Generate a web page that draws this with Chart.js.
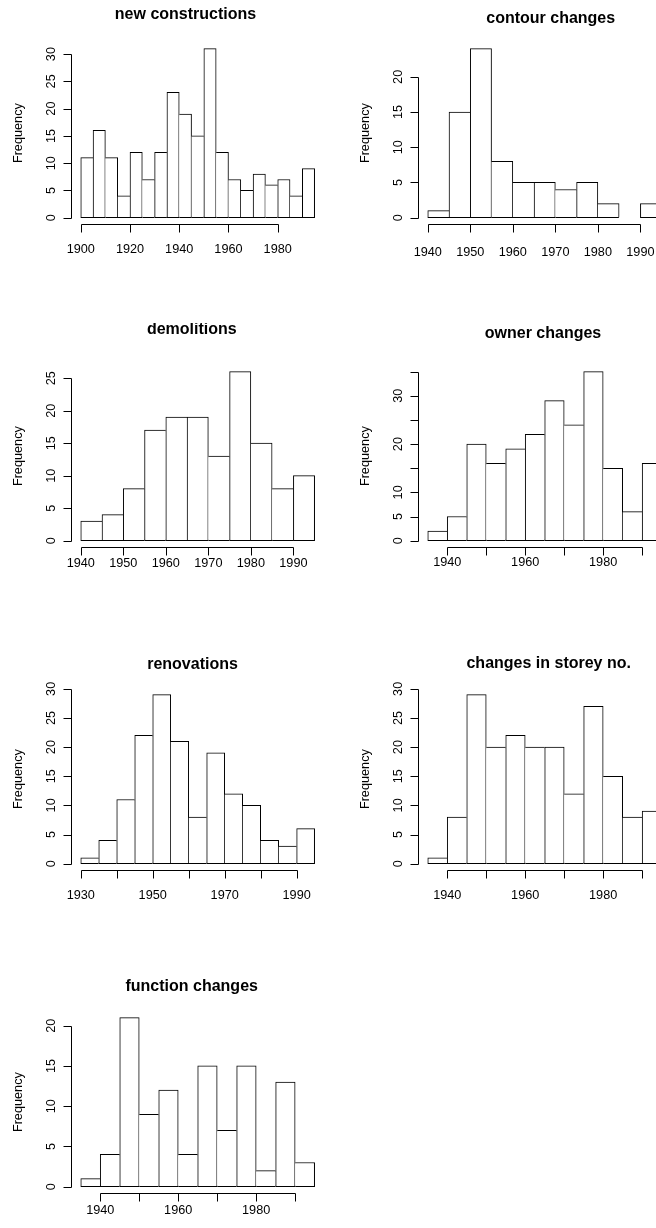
<!DOCTYPE html>
<html>
<head>
<meta charset="utf-8">
<script src="https://cdn.jsdelivr.net/npm/chart.js@4/dist/chart.umd.min.js"></script>
<style>
  html, body { margin: 0; padding: 0; background: #fff; }
  body { width: 656px; height: 1228px; overflow: hidden; position: relative; }
  .panel { position: absolute; width: 347px; height: 323px; }
</style>
</head>
<body>
<script>
// histogram counts, 5-year bins
const binWidth = 5
const titles = ["new constructions", "contour changes", "demolitions", "owner changes",
  "renovations", "changes in storey no.", "function changes"]
const binStarts = [1900, 1940, 1940, 1935, 1930, 1935, 1935]

const newConstructions = [11, 16, 11, 4, 12, 7, 12, 23, 19, 15, 31, 12, 7, 5, 8, 6, 7, 4, 9]
const contourChanges = [1, 15, 24, 8, 5, 5, 4, 5, 2, 0, 2]
const demolitions = [3, 4, 8, 17, 19, 19, 13, 26, 15, 8, 10]
const ownerChanges = [2, 5, 20, 16, 19, 22, 29, 24, 35, 15, 6, 16]
const renovations = [1, 4, 11, 22, 29, 21, 8, 19, 12, 10, 4, 3, 6]
const storeyChanges = [1, 8, 29, 20, 22, 20, 20, 12, 27, 15, 8, 9]
const functionChanges = [1, 4, 21, 9, 12, 4, 15, 7, 15, 2, 13, 3]
const counts = [newConstructions, contourChanges, demolitions, ownerChanges,
  renovations, storeyChanges, functionChanges]

// axis ticks and the labels R kept
const xTicks = [
  [1900, 1920, 1940, 1960, 1980],
  [1940, 1950, 1960, 1970, 1980, 1990],
  [1940, 1950, 1960, 1970, 1980, 1990],
  [1940, 1950, 1960, 1970, 1980, 1990],
  [1930, 1940, 1950, 1960, 1970, 1980, 1990],
  [1940, 1950, 1960, 1970, 1980, 1990],
  [1940, 1950, 1960, 1970, 1980, 1990],
]
const xTickLabels = [
  [1900, 1920, 1940, 1960, 1980],
  [1940, 1950, 1960, 1970, 1980, 1990],
  [1940, 1950, 1960, 1970, 1980, 1990],
  [1940, 1960, 1980],
  [1930, 1950, 1970, 1990],
  [1940, 1960, 1980],
  [1940, 1960, 1980],
]
const yTicks = [
  [0, 5, 10, 15, 20, 25, 30],
  [0, 5, 10, 15, 20],
  [0, 5, 10, 15, 20, 25],
  [0, 5, 10, 15, 20, 25, 30, 35],
  [0, 5, 10, 15, 20, 25, 30],
  [0, 5, 10, 15, 20, 25, 30],
  [0, 5, 10, 15, 20],
]
const yTickLabels = [
  [0, 5, 10, 15, 20, 25, 30],
  [0, 5, 10, 15, 20],
  [0, 5, 10, 15, 20, 25],
  [0, 5, 10, 20, 30],
  [0, 5, 10, 15, 20, 25, 30],
  [0, 5, 10, 15, 20, 25, 30],
  [0, 5, 10, 15, 20],
]

// where each panel sits (col, row) and small per-panel text offsets
const panelLayout = [
  { col: 0, row: 0, titleX: 185.5, titleY: 19.3, xLabOff: 23.5 },
  { col: 1, row: 0, titleX: 203.7, titleY: 22.7, xLabOff: 27 },
  { col: 0, row: 1, titleX: 191.8, titleY: 11, xLabOff: 14.5 },
  { col: 1, row: 1, titleX: 196, titleY: 15.3, xLabOff: 13.5 },
  { col: 0, row: 2, titleX: 192.5, titleY: 23.3, xLabOff: 24 },
  { col: 1, row: 2, titleX: 201.7, titleY: 22.3, xLabOff: 24 },
  { col: 0, row: 3, titleX: 191.7, titleY: 21.7, xLabOff: 15.5 },
]

const FONT = '"Liberation Sans", Arial, Helvetica, sans-serif'

// R style axes, title and y label
const rStyle = {
  id: "rStyle",
  afterDraw(chart, args, opts) {
    const { ctx, chartArea: area, scales } = chart
    const x = scales.x, y = scales.y
    ctx.save()
    ctx.strokeStyle = "#000"
    ctx.fillStyle = "#000"
    ctx.lineWidth = 1

    // y axis
    const ax = Math.round(area.left) + 0.5
    const yt = opts.yTicks
    ctx.beginPath()
    ctx.moveTo(ax, Math.round(y.getPixelForValue(yt[0])) + 0.5)
    ctx.lineTo(ax, Math.round(y.getPixelForValue(yt[yt.length - 1])) + 0.5)
    yt.forEach((t) => {
      const py = Math.round(y.getPixelForValue(t)) + 0.5
      ctx.moveTo(ax - 8, py)
      ctx.lineTo(ax, py)
    })
    ctx.stroke()
    ctx.font = "12.7px " + FONT
    ctx.textAlign = "center"
    ctx.textBaseline = "alphabetic"
    opts.yLabels.forEach((t) => {
      ctx.save()
      ctx.translate(ax - 17, y.getPixelForValue(t))
      ctx.rotate(-Math.PI / 2)
      ctx.fillText(String(t), 0, 0)
      ctx.restore()
    })
    ctx.save()
    ctx.translate(ax - 49.5, (area.top + area.bottom) / 2)
    ctx.rotate(-Math.PI / 2)
    ctx.fillText("Frequency", 0, 0)
    ctx.restore()

    // x axis
    const ay = Math.round(area.bottom) + 0.5
    const xt = opts.xTicks
    ctx.beginPath()
    ctx.moveTo(Math.round(x.getPixelForValue(xt[0])) + 0.5, ay)
    ctx.lineTo(Math.round(x.getPixelForValue(xt[xt.length - 1])) + 0.5, ay)
    xt.forEach((t) => {
      const px = Math.round(x.getPixelForValue(t)) + 0.5
      ctx.moveTo(px, ay)
      ctx.lineTo(px, ay + 8)
    })
    ctx.stroke()
    opts.xLabels.forEach((t) => {
      ctx.fillText(String(t), x.getPixelForValue(t), ay + opts.xLabOff + 4.5)
    })

    // title
    ctx.font = "bold 16px " + FONT
    ctx.fillText(opts.title, opts.titleX, opts.titleY)
    ctx.restore()
  },
}

counts.forEach((vals, k) => {
  const lay = panelLayout[k]
  const div = document.createElement("div")
  div.className = "panel"
  div.style.left = lay.col * 347 + "px"
  div.style.top = lay.row * 323 + "px"
  const canvas = document.createElement("canvas")
  canvas.width = 347
  canvas.height = 323
  div.appendChild(canvas)
  document.body.appendChild(div)

  const start = binStarts[k]
  const end = start + binWidth * vals.length
  const xPad = 0.04 * (end - start)
  const ymax = Math.max(...vals)
  const n = vals.length

  new Chart(canvas, {
    type: "bar",
    data: {
      datasets: [
        {
          data: vals.map((v, i) => ({ x: start + binWidth * i + binWidth / 2, y: v })),
          backgroundColor: "#fff",
          borderColor: "#000",
          borderSkipped: false,
          // shared bin edges drawn once, by the taller neighbour
          borderWidth: (c) => {
            const i = c.dataIndex
            const v = vals[i]
            if (v === 0) return 0
            return {
              top: 1,
              bottom: 1,
              left: i === 0 || v >= vals[i - 1] ? 1 : 0,
              right: i === n - 1 || v > vals[i + 1] ? 1 : 0,
            }
          },
          barPercentage: 1,
          categoryPercentage: 1,
        },
      ],
    },
    options: {
      responsive: false,
      animation: false,
      events: [],
      layout: { padding: { left: 71.4, right: 23, top: 41.9, bottom: 98.6 } },
      scales: {
        x: {
          type: "linear",
          display: false,
          offset: false,
          min: start - xPad,
          max: end + xPad,
          ticks: { stepSize: binWidth, includeBounds: false },
        },
        y: {
          type: "linear",
          display: false,
          min: -0.04 * ymax,
          max: ymax * 1.04,
        },
      },
      plugins: {
        legend: { display: false },
        tooltip: { enabled: false },
        rStyle: {
          title: titles[k],
          titleX: lay.titleX,
          titleY: lay.titleY,
          xLabOff: lay.xLabOff,
          xTicks: xTicks[k],
          xLabels: xTickLabels[k],
          yTicks: yTicks[k],
          yLabels: yTickLabels[k],
        },
      },
    },
    plugins: [rStyle],
  })
})
</script>
</body>
</html>
